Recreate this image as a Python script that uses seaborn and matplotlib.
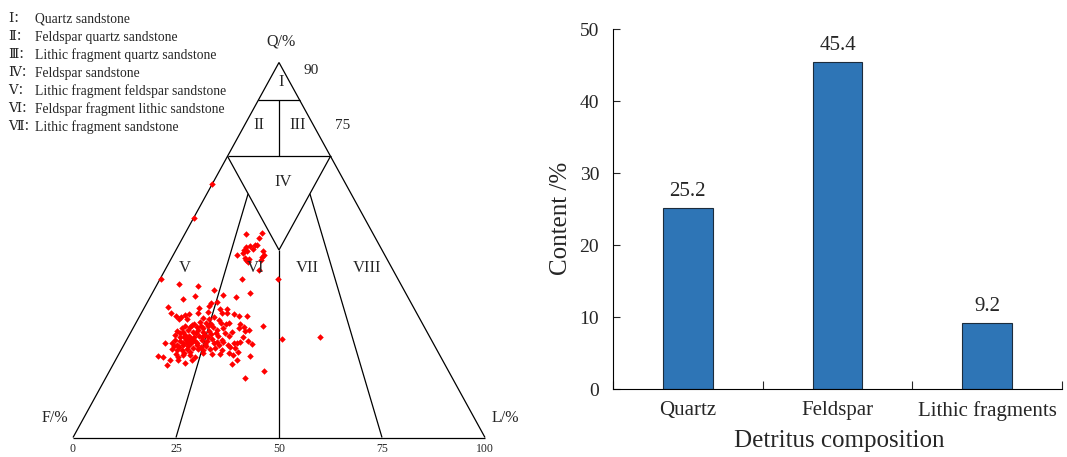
import numpy as np
import pandas as pd
import matplotlib
matplotlib.use('Agg')
import matplotlib.pyplot as plt
import seaborn as sns

# Sandstone framework composition (%) of each sample: quartz, feldspar, lithic fragments
quartz_pct = [54.2,54.5,53.1,51.3,51.1,50.7,50.0,49.3,49.7,50.2,51.2,49.8,48.7,48.1,47.3,47.6,47.3,46.8,48.6,44.7,48.0,67.5,58.4,42.2,42.2,42.3,26.9,26.2,17.8,15.8,29.8,41.0,40.4,39.3,38.1,38.6,37.7,36.9,37.5,35.8,36.2,35.2,34.9,34.6,34.3,34.4,33.6,33.1,32.4,32.2,32.7,32.9,33.1,33.1,33.1,32.9,32.5,32.5,31.6,31.5,31.8,32.2,31.3,30.4,30.0,29.8,29.1,30.6,30.4,30.6,30.3,30.6,30.2,29.6,29.7,29.7,29.6,29.6,29.3,29.6,28.5,28.2,28.7,28.2,28.7,28.2,28.7,29.1,28.2,29.3,28.8,28.5,27.3,26.9,27.3,27.1,26.9,27.1,27.3,27.6,27.1,27.1,26.0,25.7,26.0,25.6,25.7,26.0,25.7,26.2,25.6,26.0,25.6,25.1,25.7,24.9,25.1,25.3,24.7,24.7,24.4,25.1,24.7,24.2,24.4,25.1,24.7,24.8,25.3,23.5,23.3,23.3,23.5,23.8,23.6,23.3,23.5,23.8,23.3,24.2,23.8,22.9,21.8,21.4,20.8,21.6,22.0,22.0,21.6,22.6,22.3,22.4,22.6,22.0,21.7,20.7,19.8,20.8,19.3,19.5,20.8,26.4,26.2,25.3,25.3,25.8,25.3,27.8,26.7,27.8,26.7,26.9,24.9,22.9,22.6,22.3,24.4,24.2,28.5,28.0,28.0,30.9,31.5,25.6,26.9]
feldspar_pct = [30.8,26.9,28.2,30.2,31.5,32.7,33.4,34.0,32.9,31.1,29.7,29.1,29.3,30.1,30.7,33.6,34.4,34.2,36.0,32.6,34.2,32.4,41.4,57.6,38.0,29.0,26.6,36.2,44.8,50.3,39.1,53.8,49.4,46.1,44.5,37.7,51.5,54.8,41.6,48.7,47.0,49.5,59.6,52.1,47.2,45.4,50.5,59.7,58.9,57.6,56.4,55.4,53.0,47.4,46.0,44.5,43.5,41.6,58.4,56.7,52.6,49.7,48.8,55.4,56.2,57.9,59.1,52.5,51.2,48.8,47.7,46.8,44.4,43.7,52.3,54.2,55.2,56.8,53.7,51.1,60.6,59.3,57.8,56.7,55.2,54.3,50.6,49.0,47.4,45.0,42.8,44.0,61.6,60.7,59.2,58.2,57.3,55.8,54.3,52.7,51.2,48.7,62.2,61.2,59.6,58.8,57.6,55.8,54.7,53.2,52.3,50.9,46.6,47.7,44.6,44.2,65.0,63.2,62.3,60.9,59.8,58.7,57.6,56.9,55.4,53.2,52.1,49.9,48.2,64.3,63.2,62.0,60.7,58.9,57.8,56.7,55.0,53.6,52.3,49.8,48.8,48.6,68.4,67.4,66.1,63.6,62.2,60.6,59.6,57.2,55.2,53.1,50.8,50.1,46.2,64.1,62.9,60.8,67.6,51.7,49.9,59.2,58.3,60.7,59.6,58.1,57.2,60.1,59.7,56.2,55.4,53.7,55.4,60.1,61.7,63.8,63.4,62.1,52.7,51.3,49.1,53.7,51.2,50.7,45.2]
lithic_pct = [15.0,18.6,18.7,18.5,17.4,16.6,16.6,16.7,17.4,18.7,19.1,21.1,22.0,21.8,22.0,18.8,18.3,19.0,15.4,22.7,17.8,0.1,0.2,0.2,19.8,28.7,46.5,37.6,37.4,33.9,31.1,5.2,10.2,14.6,17.4,23.7,10.8,8.3,20.9,15.5,16.8,15.3,5.5,13.3,18.5,20.2,15.9,7.2,8.7,10.2,10.9,11.7,13.9,19.5,20.9,22.6,24.0,25.9,10.0,11.8,15.6,18.1,19.9,14.2,13.8,12.3,11.8,16.9,18.4,20.6,22.0,22.6,25.4,26.7,18.0,16.1,15.2,13.6,17.0,19.3,10.9,12.5,13.5,15.1,16.1,17.5,20.7,21.9,24.4,25.7,28.4,27.5,11.1,12.4,13.5,14.7,15.8,17.1,18.4,19.7,21.7,24.2,11.8,13.1,14.4,15.6,16.7,18.2,19.6,20.6,22.1,23.1,27.8,27.2,29.7,30.9,9.9,11.5,13.0,14.4,15.8,16.2,17.7,18.9,20.2,21.7,23.2,25.3,26.5,12.2,13.5,14.7,15.8,17.3,18.6,20.0,21.5,22.6,24.4,26.0,27.4,28.5,9.8,11.2,13.1,14.8,15.8,17.4,18.8,20.2,22.5,24.5,26.6,27.9,32.1,15.2,17.3,18.4,13.1,28.8,29.3,14.4,15.5,14.0,15.1,16.1,17.5,12.1,13.6,16.0,17.9,19.4,19.7,17.0,15.7,13.9,12.2,13.7,18.8,20.7,22.9,15.4,17.3,23.7,27.9]

# Mean detritus composition (%)
components = ['Quartz', 'Feldspar', 'Lithic fragments']
content = [25.2, 45.4, 9.2]

sns.set_style('ticks')
plt.rcParams['font.family'] = ['Liberation Serif', 'DejaVu Serif', 'Noto Sans CJK SC']


def tern(q, f, l):
    """Q-F-L composition -> (x, y) in a triangle with F at left, L at right, Q on top."""
    q = np.asarray(q, float); f = np.asarray(f, float); l = np.asarray(l, float)
    s = q + f + l
    return l / s + q / s / 2, q / s


fig = plt.figure(figsize=(10.67, 4.57), dpi=100)

# ---- Q-F-L ternary classification diagram ----
tax = fig.add_axes([73/1067, 19.5/457, 412/1067, 375/457])

field_bounds = [
    ((100, 0, 0), (0, 100, 0)), ((0, 100, 0), (0, 0, 100)), ((0, 0, 100), (100, 0, 0)),
    ((90, 10, 0), (90, 0, 10)), ((75, 25, 0), (75, 0, 25)),
    ((90, 5, 5), (75, 12.5, 12.5)),
    ((75, 25, 0), (50, 25, 25)), ((75, 0, 25), (50, 25, 25)),
    ((50, 25, 25), (0, 50, 50)),
    ((65, 25, 10), (0, 75, 25)), ((65, 10, 25), (0, 25, 75)),
]
for a, b in field_bounds:
    xs, ys = tern([a[0], b[0]], [a[1], b[1]], [a[2], b[2]])
    tax.plot(xs, ys, color='black', lw=0.9, solid_capstyle='butt', clip_on=False)

sdf = pd.DataFrame({'Q': quartz_pct, 'F': feldspar_pct, 'L': lithic_pct})
sdf['x'], sdf['y'] = tern(sdf['Q'], sdf['F'], sdf['L'])
sns.scatterplot(data=sdf, x='x', y='y', ax=tax, color='#ff0000', marker='D', s=11,
                linewidth=0, clip_on=False, zorder=3)
tax.set_xlim(0, 1); tax.set_ylim(0, 1); tax.axis('off')

fields = [('I', 0.505, 0.947), ('II', 0.451, 0.833), ('III', 0.546, 0.833), ('IV', 0.510, 0.681),
          ('V', 0.272, 0.453), ('VI', 0.442, 0.453), ('VII', 0.568, 0.453), ('VIII', 0.714, 0.453)]
for lab, x, y in fields:
    tax.text(x, y, lab, ha='center', va='center', fontsize=12)
tax.text(0.578, 0.979, '90', ha='center', va='center', fontsize=11)
tax.text(0.655, 0.833, '75', ha='center', va='center', fontsize=11)
tax.text(0.505, 1.055, 'Q/%', ha='center', va='center', fontsize=11.5)
tax.text(-0.044, 0.052, 'F/%', ha='center', va='center', fontsize=11.5)
tax.text(1.049, 0.052, 'L/%', ha='center', va='center', fontsize=11.5)
for v in [0, 25, 50, 75, 100]:
    tax.text(v / 100, -0.048, str(v), ha='center', va='bottom', fontsize=8.5)

legend_marks = ['Ⅰ：', 'Ⅱ：', 'Ⅲ：', 'Ⅳ：', 'Ⅴ：', 'Ⅵ：', 'Ⅶ：']
legend_names = ['Quartz sandstone', 'Feldspar quartz sandstone',
                'Lithic fragment quartz sandstone', 'Feldspar sandstone',
                'Lithic fragment feldspar sandstone', 'Feldspar fragment lithic sandstone',
                'Lithic fragment sandstone']
for i, (m, t) in enumerate(zip(legend_marks, legend_names)):
    y = 1 - (19 + 18 * i) / 457
    fig.text(8 / 1067, y, m, ha='left', va='center', fontsize=9.5)
    fig.text(35 / 1067, y, t, ha='left', va='center', fontsize=9.8)

# ---- detritus composition bars ----
bax = fig.add_axes([613/1067, 68/457, 449/1067, 360/457])
bdf = pd.DataFrame({'component': components, 'content': content})
sns.barplot(data=bdf, x='component', y='content', ax=bax, color='#2E75B6', saturation=1,
            width=0.33, edgecolor='#1c2c3c', linewidth=0.8)
bax.bar_label(bax.containers[0], labels=[f'{v:.1f}' for v in content], padding=5, fontsize=15)
bax.set_xlim(-0.5, 2.5); bax.set_ylim(0, 50)
bax.set_yticks(range(0, 51, 10))
bax.set_xticks([-0.5, 0.5, 1.5, 2.5], minor=True)
bax.tick_params(axis='x', which='major', length=0, pad=9, labelsize=15)
bax.tick_params(axis='x', which='minor', direction='in', length=6, width=0.8)
bax.tick_params(axis='y', direction='in', length=5, width=0.8, pad=10, labelsize=14)
for s in ['top', 'right']:
    bax.spines[s].set_visible(False)
for s in ['left', 'bottom']:
    bax.spines[s].set_linewidth(0.8); bax.spines[s].set_color('black')
bax.set_ylabel('Content /%', fontsize=18)
bax.set_xlabel('Detritus composition', fontsize=18)
bax.yaxis.set_label_coords(-0.115, 0.475)
bax.yaxis.label.set_verticalalignment('center')
bax.xaxis.set_label_coords(0.503, -0.145)
bax.xaxis.label.set_verticalalignment('center')

fig.savefig('out.png', dpi=100)
